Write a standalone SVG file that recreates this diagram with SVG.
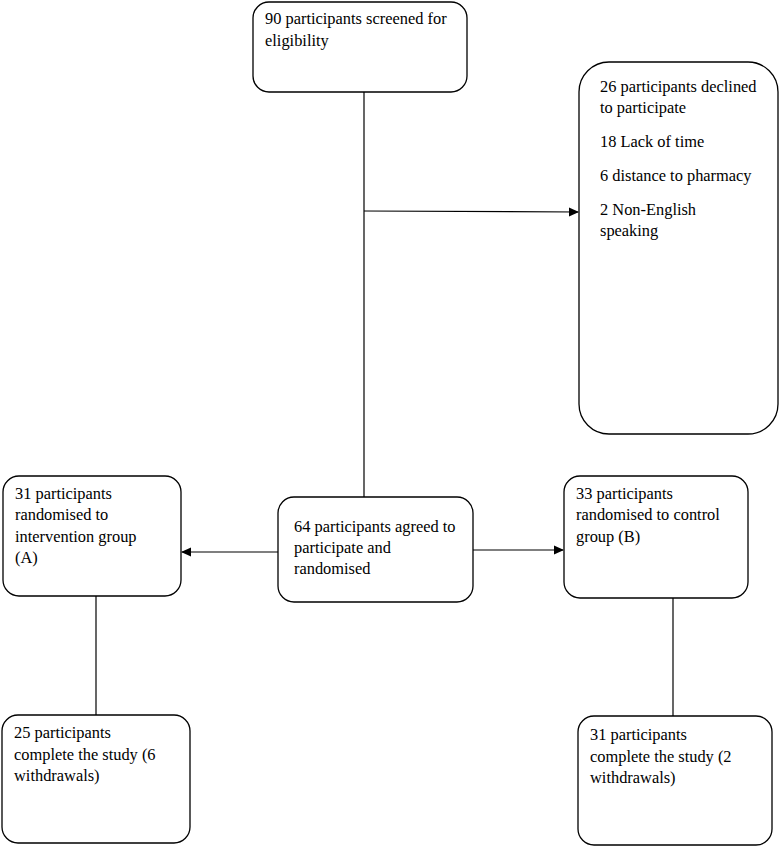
<svg xmlns="http://www.w3.org/2000/svg" width="780" height="848" viewBox="0 0 780 848">
<style>
.box{fill:#fff;stroke:#000;stroke-width:1.3}
text{font-family:"Liberation Serif","Times New Roman",serif;font-size:16.4px;fill:#000}
.c{stroke:#000;stroke-width:1.2;fill:none}
</style>
<defs>
<marker id="ah" markerWidth="10" markerHeight="10" refX="9" refY="5" orient="auto" markerUnits="userSpaceOnUse">
<path d="M0,0.5 L10,5 L0,9.5 Z" fill="#000"/>
</marker>
</defs>
<rect width="780" height="848" fill="#fff"/>
<g id="connectors">
<line class="c" x1="364" y1="92" x2="364" y2="497"/>
<line class="c" x1="364" y1="211" x2="578" y2="212" marker-end="url(#ah)"/>
<line class="c" x1="278" y1="552" x2="182" y2="552" marker-end="url(#ah)"/>
<line class="c" x1="473" y1="550" x2="563" y2="550" marker-end="url(#ah)"/>
<line class="c" x1="96" y1="596" x2="96" y2="715"/>
<line class="c" x1="673" y1="598" x2="673" y2="716"/>
</g>
<g id="screened">
<rect class="box" x="253" y="2" width="214" height="90" rx="16"/>
<text x="265" y="24">90 participants screened for</text>
<text x="265" y="46">eligibility</text>
</g>
<g id="declined">
<rect class="box" x="579" y="62" width="199" height="372" rx="30"/>
<text x="600" y="92">26 participants declined</text>
<text x="600" y="113">to participate</text>
<text x="600" y="147">18 Lack of time</text>
<text x="600" y="181">6 distance to pharmacy</text>
<text x="600" y="215">2 Non-English</text>
<text x="600" y="236">speaking</text>
</g>
<g id="intervention">
<rect class="box" x="3" y="476" width="178" height="120" rx="16"/>
<text x="15" y="499">31 participants</text>
<text x="15" y="520">randomised to</text>
<text x="15" y="542">intervention group</text>
<text x="15" y="563">(A)</text>
</g>
<g id="randomised">
<rect class="box" x="278" y="497" width="195" height="105" rx="16"/>
<text x="294" y="532">64 participants agreed to</text>
<text x="294" y="553">participate and</text>
<text x="294" y="574">randomised</text>
</g>
<g id="control">
<rect class="box" x="564" y="476" width="184" height="122" rx="16"/>
<text x="576" y="499">33 participants</text>
<text x="576" y="520">randomised to control</text>
<text x="576" y="542">group (B)</text>
</g>
<g id="completeA">
<rect class="box" x="2" y="715" width="188" height="128" rx="16"/>
<text x="14" y="738">25 participants</text>
<text x="14" y="760">complete the study (6</text>
<text x="14" y="781">withdrawals)</text>
</g>
<g id="completeB">
<rect class="box" x="578" y="716" width="194" height="129" rx="16"/>
<text x="590" y="740">31 participants</text>
<text x="590" y="762">complete the study (2</text>
<text x="590" y="783">withdrawals)</text>
</g>
</svg>
